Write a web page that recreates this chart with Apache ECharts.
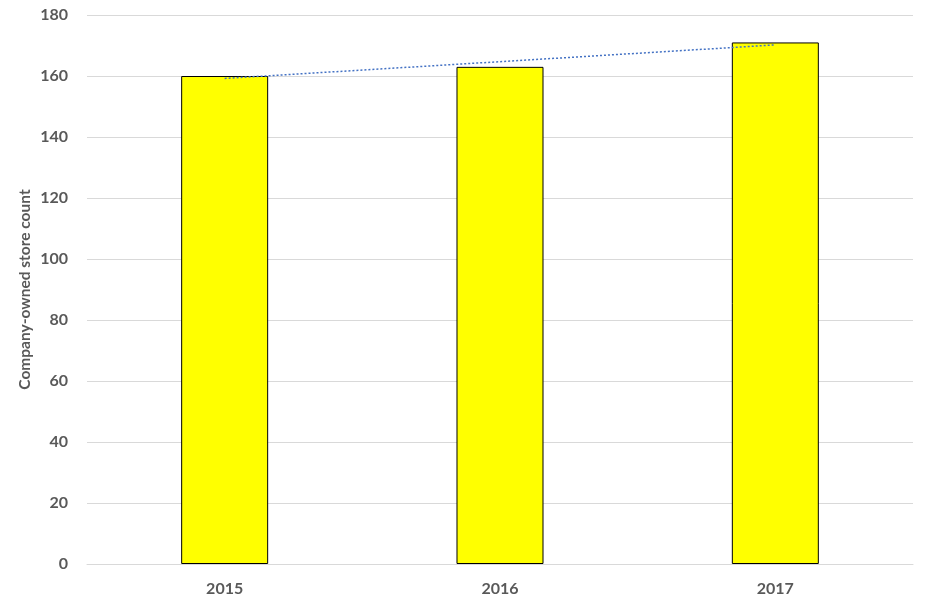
<!DOCTYPE html>
<html>
<head>
<meta charset="utf-8">
<script src="https://cdn.jsdelivr.net/npm/echarts@6/dist/echarts.min.js"></script>
<style>
  html, body { margin: 0; padding: 0; background: #fff; }
  #chart { width: 931px; height: 616px; }
</style>
</head>
<body>
<div id="chart"></div>
<script>
// values
const years = ['2015', '2016', '2017'];
const storeCounts = [160, 163, 171];
// linear trendline endpoints as drawn (first and last year only)
const trendValues = [159.2, null, 170.2];
const yTicks = { min: 0, max: 180, interval: 20 };

const chart = echarts.init(document.getElementById('chart'));
const labelColor = '#595959';
const fontFamily = 'Lato, "Open Sans", sans-serif';

chart.setOption({
  animation: false,
  grid: { left: 87, right: 18, top: 15, bottom: 52 },
  xAxis: {
    type: 'category',
    data: years,
    axisLine: { lineStyle: { color: '#d9d9d9' } },
    axisTick: { show: false },
    axisLabel: { color: labelColor, fontSize: 16, fontWeight: 'bold', fontFamily: fontFamily, margin: 17 }
  },
  yAxis: {
    type: 'value',
    min: yTicks.min,
    max: yTicks.max,
    interval: yTicks.interval,
    name: 'Company-owned store count',
    nameLocation: 'middle',
    nameGap: 54,
    nameMoveOverlap: false,
    nameTextStyle: { color: labelColor, fontSize: 15.5, fontWeight: 'bold', fontFamily: fontFamily },
    axisLine: { show: false },
    axisTick: { show: false },
    splitLine: { lineStyle: { color: '#d9d9d9' } },
    axisLabel: { color: labelColor, fontSize: 16, fontWeight: 'bold', fontFamily: fontFamily, margin: 19 }
  },
  series: [
    {
      type: 'bar',
      data: storeCounts,
      barWidth: '31.6%',
      itemStyle: { color: '#ffff00', borderColor: '#000000', borderWidth: 1 }
    },
    {
      type: 'line',
      data: trendValues,
      connectNulls: true,
      symbol: 'none',
      lineStyle: { color: '#4472c4', width: 1.5, type: [2, 2] },
      z: 5
    }
  ]
});
</script>
</body>
</html>
